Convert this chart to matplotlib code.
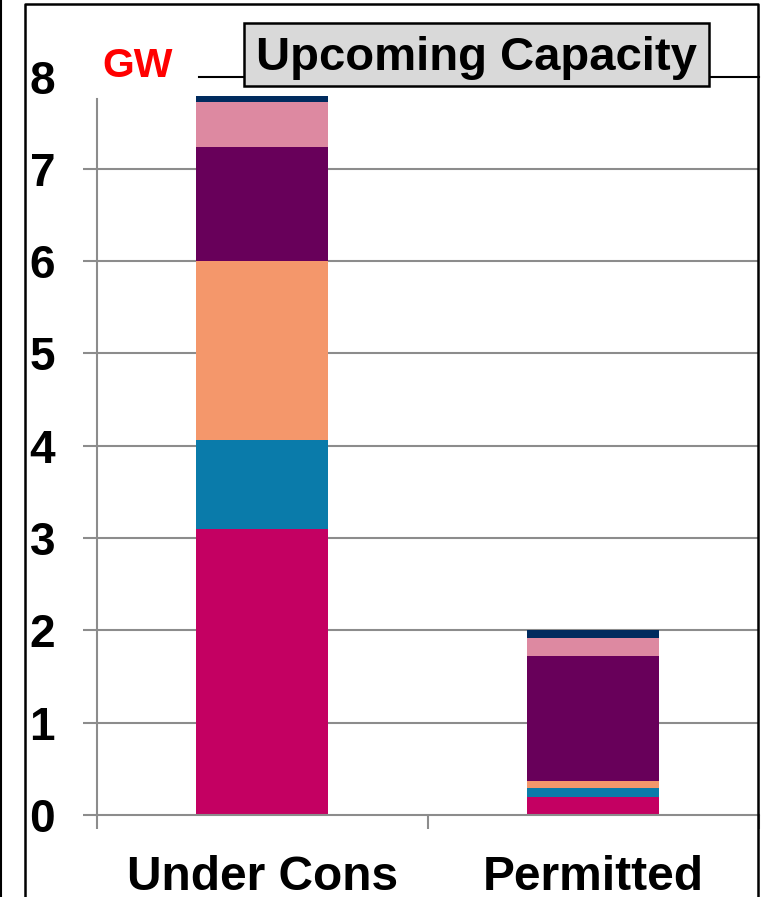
import matplotlib
matplotlib.use("Agg")
import matplotlib.pyplot as plt
from matplotlib.lines import Line2D
from matplotlib.patches import Rectangle
import numpy as np

plt.rcParams['font.family'] = ['Liberation Sans', 'DejaVu Sans']
plt.rcParams['font.weight'] = 'bold'

# Capacity in GW by stage, stacked by technology segment (bottom to top)
categories = ["Under Cons", "Permitted"]
seg_crimson = [3.10, 0.19]
seg_teal = [0.96, 0.10]
seg_salmon = [1.94, 0.08]
seg_purple = [1.24, 1.35]
seg_pink = [0.49, 0.20]
seg_navy = [0.06, 0.08]
y_ticks = [0, 1, 2, 3, 4, 5, 6, 7, 8]

segments = [seg_crimson, seg_teal, seg_salmon, seg_purple, seg_pink, seg_navy]
colors = ["#C40062", "#0A7BAA", "#F4976B", "#68005A", "#DD89A1", "#002B5E"]

W, H = 766, 897
fig = plt.figure(figsize=(W / 100, H / 100), dpi=100)

def fx(px):
    return px / W

def fy(py):
    return 1 - py / H

ax = fig.add_axes([fx(96.7), fy(815), fx(758.5) - fx(96.7), fy(76.6) - fy(815)])
ax.set_facecolor("none")

x = np.arange(len(categories))
bottom = np.zeros(len(categories))
for vals, c in zip(segments, colors):
    ax.bar(x, vals, width=0.4, bottom=bottom, color=c, linewidth=0, zorder=3)
    bottom += np.array(vals)

ax.set_xlim(-0.5, 1.5)
ax.set_ylim(0, 8)

grid_c = "#8c8c8c"
for v in y_ticks[1:-1]:
    ax.axhline(v, color=grid_c, lw=1.5, zorder=1)
ax.axhline(8, xmin=0.155, color="black", lw=1.5, zorder=1, clip_on=False)

for s in ["top", "right"]:
    ax.spines[s].set_visible(False)
for s in ["left", "bottom"]:
    ax.spines[s].set_color(grid_c)
    ax.spines[s].set_linewidth(1.5)
ax.spines["left"].set_bounds(0, 7.76)
ax.spines["bottom"].set_zorder(4)

ax.set_yticks(y_ticks)
ax.set_yticklabels([str(v) for v in y_ticks])
ax.tick_params(axis="y", direction="out", length=10, width=1.5, color=grid_c,
               pad=20, labelsize=33)
ax.yaxis.get_major_ticks()[-1].tick1line.set_visible(False)

ax.set_xticks([-0.5, 0.5, 1.5])
ax.set_xticklabels([])
ax.tick_params(axis="x", direction="out", length=10, width=1.5, color=grid_c)

for xi, name in zip(x, categories):
    ax.text(xi, (82 - 890) / (815 - 76.6) * 0 + (H - 890 - (H - 815)) / (815 - 76.6),
            name, transform=ax.get_xaxis_transform(), ha="center", va="baseline",
            fontsize=34.5, fontweight="bold", clip_on=False)

# Unit label
fig.text(fx(102.5), fy(76.5), "GW", color="#FF0000", fontsize=29.5,
         fontweight="bold", ha="left", va="baseline")

# Title box
fig.add_artist(Rectangle((fx(244), fy(86)), fx(709) - fx(244), fy(23) - fy(86),
                         transform=fig.transFigure, facecolor="#D9D9D9",
                         edgecolor="black", lw=1.8, zorder=5))
fig.text(fx(476.5), fy(70), "Upcoming Capacity", fontsize=34, fontweight="bold",
         ha="center", va="baseline", zorder=6)

# Outer frame lines
fig.add_artist(Line2D([fx(1.5), fx(1.5)], [0, 1], transform=fig.transFigure,
                      color="black", lw=1.5))
fig.add_artist(Line2D([fx(25), fx(25), fx(757.5), fx(757.5)],
                      [0, fy(4), fy(4), 0], transform=fig.transFigure,
                      color="black", lw=1.8))

fig.savefig("out.png", dpi=100)
